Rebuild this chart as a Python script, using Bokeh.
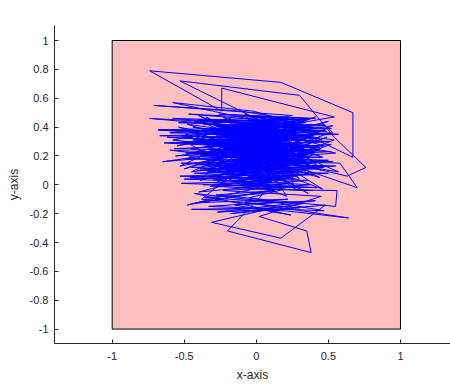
from bokeh.plotting import figure
from bokeh.models import FixedTicker, Range1d, Label
from bokeh.embed import file_html
from bokeh.resources import INLINE

box_x = [-1, 1]
box_y = [-1, 1]

walk = [
    (0.05, 0.22), (-0.32, 0.25), (0.28, 0.21), (-0.15, 0.30), (0.41, 0.27), (-0.62, 0.33), (0.12, 0.29), (-0.21, 0.35),
    (0.33, 0.31), (-0.68, 0.38), (0.07, 0.36), (-0.29, 0.41), (0.46, 0.37), (-0.11, 0.43), (0.24, 0.40), (-0.58, 0.46),
    (0.15, 0.44), (-0.47, 0.49), (0.35, 0.45), (-0.05, 0.42), (0.52, 0.39), (-0.25, 0.37), (0.19, 0.34), (-0.60, 0.29),
    (0.02, 0.30), (-0.35, 0.28), (0.44, 0.26), (-0.18, 0.24), (0.31, 0.20), (-0.49, 0.18), (0.09, 0.16), (-0.27, 0.13),
    (0.38, 0.15), (-0.08, 0.11), (0.22, 0.08), (-0.41, 0.10), (0.47, 0.12), (-0.14, 0.07), (0.27, 0.04), (-0.33, 0.06),
    (0.11, 0.02), (-0.22, -0.01), (0.36, 0.03), (-0.46, 0.05), (0.04, 0.09), (-0.30, 0.14), (0.50, 0.17), (-0.12, 0.19),
    (0.16, 0.23), (-0.65, 0.16), (0.21, 0.28), (-0.09, 0.31), (0.40, 0.33), (-0.36, 0.35), (0.06, 0.38), (-0.19, 0.40),
    (0.29, 0.42), (-0.43, 0.44), (0.13, 0.47), (-0.26, 0.49), (0.37, 0.46), (-0.02, 0.43), (0.48, 0.41), (-0.31, 0.39),
    (0.17, 0.36), (-0.67, 0.34), (0.25, 0.32), (-0.06, 0.29), (0.43, 0.27), (-0.23, 0.25), (0.10, 0.22), (-0.39, 0.20),
    (0.32, 0.18), (-0.16, 0.15), (0.55, 0.13), (-0.28, 0.11), (0.03, 0.08), (-0.53, 0.06), (0.20, 0.04), (-0.10, 0.01),
    (0.42, -0.02), (-0.37, 0.00), (0.14, 0.03), (-0.20, 0.06), (0.30, 0.09), (-0.45, 0.12), (0.08, 0.14), (-0.34, 0.17),
    (0.45, 0.19), (-0.03, 0.21), (0.26, 0.24), (-0.56, 0.20), (0.18, 0.29), (-0.13, 0.32), (0.39, 0.34), (-0.60, 0.36),
    (0.01, 0.39), (-0.24, 0.41), (0.34, 0.43), (-0.40, 0.45), (0.12, 0.42), (-0.17, 0.39), (0.49, 0.37), (-0.07, 0.34),
    (0.23, 0.31), (-0.51, 0.29), (0.05, 0.26), (-0.30, 0.24), (0.36, 0.21), (-0.11, 0.18), (0.53, 0.16), (-0.42, 0.14),
    (0.15, 0.11), (-0.25, 0.09), (0.28, 0.06), (-0.50, 0.04), (-0.01, 0.02), (-0.32, -0.01), (0.39, -0.04), (-0.15, -0.02),
    (0.24, 0.01), (-0.40, -0.05), (0.07, 0.07), (-0.21, 0.10), (0.46, 0.13), (-0.35, 0.15), (0.19, 0.18), (-0.04, 0.21),
    (0.31, 0.23), (-0.57, 0.25), (0.10, 0.28), (-0.27, 0.30), (0.44, 0.32), (-0.14, 0.35), (0.27, 0.37), (-0.74, 0.46),
    (0.02, 0.42), (-0.33, 0.44), (0.41, 0.46), (-0.09, 0.48), (0.20, 0.45), (-0.54, 0.43), (0.33, 0.40), (-0.19, 0.38),
    (0.08, 0.35), (-0.38, 0.33), (0.51, 0.30), (-0.02, 0.27), (0.17, 0.25), (-0.49, 0.22), (0.29, 0.20), (-0.12, 0.17),
    (0.58, 0.15), (0.70, -0.02), (0.35, 0.10), (-0.26, 0.12), (0.04, 0.10), (-0.43, 0.08), (0.25, 0.05), (-0.17, 0.03),
    (0.37, 0.00), (-0.05, -0.03), (0.56, -0.04), (0.55, -0.15), (-0.28, -0.07), (0.13, -0.04), (-0.42, -0.125), (0.22, -0.10),
    (-0.08, -0.12), (0.64, -0.23), (0.20, -0.18), (-0.45, -0.17), (0.12, -0.16), (-0.31, -0.26), (0.17, -0.37), (0.48, -0.14),
    (-0.18, -0.20), (0.33, -0.13), (-0.36, -0.09), (0.05, -0.06), (-0.20, -0.32), (0.38, -0.47), (0.35, -0.32), (0.02, -0.22),
    (0.45, -0.08), (-0.23, -0.04), (0.26, -0.01), (-0.48, -0.14), (0.09, 0.00), (-0.30, 0.04), (0.40, 0.07), (-0.13, 0.09),
    (0.16, 0.12), (-0.52, 0.15), (0.34, 0.17), (-0.06, 0.20), (0.52, 0.23), (-0.22, 0.26), (0.14, 0.28), (-0.44, 0.31),
    (0.30, 0.33), (-0.10, 0.36), (0.54, 0.47), (-0.24, 0.67), (-0.24, 0.51), (-0.74, 0.79), (0.17, 0.71), (0.67, 0.50),
    (0.67, 0.19), (0.36, 0.34), (-0.16, 0.41), (0.25, 0.48), (-0.71, 0.55), (-0.10, 0.51), (0.32, 0.44), (-0.34, 0.38),
    (0.47, 0.42), (0.53, 0.36), (-0.03, 0.33), (0.22, 0.35), (-0.53, 0.72), (0.30, 0.62), (0.54, 0.33), (0.76, 0.12),
    (0.63, 0.06), (0.08, 0.19), (-0.29, 0.22), (0.43, 0.24), (-0.64, 0.29), (0.06, 0.32), (-0.20, 0.34), (0.35, 0.37),
    (-0.58, 0.57), (-0.02, 0.51), (0.40, 0.39), (-0.37, 0.42), (0.11, 0.40), (-0.68, 0.38), (0.27, 0.36), (-0.07, 0.33),
    (0.48, 0.30), (-0.25, 0.27), (0.18, 0.25), (-0.47, 0.22), (0.37, 0.19), (-0.15, 0.16), (0.24, 0.14), (-0.39, 0.11),
    (0.50, 0.08), (-0.04, 0.06), (0.18, 0.03), (-0.52, 0.01), (0.29, -0.02), (-0.11, 0.00), (0.10, 0.05), (-0.33, 0.09),
    (0.42, 0.11), (-0.18, 0.14), (0.00, 0.17), (-0.60, 0.24), (0.26, 0.20), (-0.08, 0.23), (0.38, 0.26), (-0.34, 0.29),
    (0.14, 0.31), (-0.22, 0.33), (0.57, 0.35), (-0.13, 0.38), (0.21, 0.40), (-0.45, 0.37), (0.03, 0.35),
    (0.31, 0.12), (-0.22, 0.41), (0.44, 0.05), (-0.38, 0.30), (0.18, 0.47), (-0.05, 0.08), (0.52, 0.28), (-0.47, 0.19),
    (0.09, 0.44), (0.27, -0.03), (-0.30, 0.36), (0.40, 0.21), (-0.13, 0.02), (0.14, 0.39), (-0.55, 0.27), (0.35, 0.46),
    (-0.02, 0.15), (0.49, 0.33), (-0.26, 0.06), (0.06, 0.30), (-0.41, 0.45), (0.23, 0.17), (-0.10, 0.38), (0.57, 0.09),
    (-0.33, 0.23), (0.12, -0.05), (-0.18, 0.31), (0.38, 0.42), (-0.50, 0.11), (0.00, 0.26), (0.30, 0.04), (-0.23, 0.47),
    (0.46, 0.19), (-0.07, 0.36), (0.21, -0.08), (-0.36, 0.14), (0.10, 0.33), (-0.44, 0.40), (0.33, 0.25), (-0.15, 0.10),
    (0.53, 0.41), (-0.28, 0.29), (0.16, 0.07), (-0.03, 0.45), (0.42, 0.14), (-0.52, 0.34), (0.25, 0.38), (-0.09, 0.20),
    (0.36, -0.06), (-0.20, 0.24), (0.08, 0.48), (-0.39, 0.03), (0.47, 0.27), (-0.12, 0.43), (0.19, 0.12), (-0.45, 0.25),
    (0.29, 0.35), (0.01, 0.05), (-0.31, 0.39), (0.55, 0.22), (-0.24, 0.16), (0.13, 0.45), (-0.06, -0.04), (0.39, 0.30),
    (-0.48, 0.42), (0.22, 0.20), (-0.17, 0.34), (0.45, 0.10), (-0.35, 0.47), (0.07, 0.13), (-0.27, 0.02), (0.32, 0.40),
    (-0.11, 0.27), (0.50, 0.44), (-0.42, 0.21), (0.17, 0.31), (-0.01, 0.11), (0.26, 0.46), (-0.58, 0.31), (0.11, 0.24),
    (-0.21, 0.07), (0.43, 0.36), (-0.08, 0.49), (0.20, 0.09), (-0.37, 0.32), (0.34, 0.16), (-0.14, 0.44), (0.04, 0.01),
    (-0.46, 0.28), (0.48, 0.38), (-0.29, 0.18), (0.15, 0.35), (-0.04, 0.23), (0.37, 0.07), (-0.19, 0.46), (0.28, 0.28),
    (-0.53, 0.13), (0.09, 0.41), (-0.32, 0.20), (0.41, 0.47), (-0.16, 0.30), (0.24, 0.11), (-0.43, 0.37), (0.05, 0.18),
    (0.31, 0.43), (-0.25, 0.01), (0.54, 0.31), (-0.10, 0.40), (0.18, 0.22), (-0.40, 0.48), (0.02, 0.29), (-0.34, 0.09),
    (0.44, 0.24), (-0.06, 0.37), (0.27, 0.15), (-0.49, 0.35), (0.14, 0.02), (-0.22, 0.38), (0.35, 0.32), (-0.13, 0.19),
    (0.46, -0.03), (-0.28, 0.43), (0.12, 0.26), (-0.02, 0.47), (0.30, 0.18), (-0.45, 0.09), (0.21, 0.39), (-0.09, 0.14),
    (0.51, 0.36), (-0.36, 0.26), (0.06, 0.42), (-0.20, 0.12), (0.39, 0.22), (-0.54, 0.40), (0.16, 0.17), (-0.07, 0.32),
    (0.29, 0.05), (-0.31, 0.45), (0.03, 0.23), (-0.38, -0.10), (0.30, -0.16), (-0.27, -0.19), (0.41, -0.11), (-0.15, -0.14),
    (0.24, -0.21), (-0.43, -0.06), (0.12, -0.12), (-0.33, -0.15), (0.47, -0.18), (-0.05, -0.09), (0.20, -0.03),
]
walk_x = [pt[0] for pt in walk]
walk_y = [pt[1] for pt in walk]

x_ticks = [-1, -0.5, 0, 0.5, 1]
x_tick_labels = ["-1", "-0.5", "0", "0.5", "1"]
y_ticks = [-1, -0.8, -0.6, -0.4, -0.2, 0, 0.2, 0.4, 0.6, 0.8, 1]
y_tick_labels = ["-1", "-0.8", "-0.6", "-0.4", "-0.2", "0", "0.2", "0.4", "0.6", "0.8", "1"]

title_text = "Output"
x_label = "x-axis"
y_label = "y-axis"

FONT = "Liberation Sans"
AX = "#262626"

p = figure(width=450, height=385, output_backend="svg", toolbar_location=None,
           x_range=Range1d(-1.4, 1.347), y_range=Range1d(-1.1, 1.104),
           min_border_left=54, min_border_right=0, min_border_top=25, min_border_bottom=42)
p.outline_line_color = None
p.xgrid.visible = False
p.ygrid.visible = False
p.background_fill_color = "white"
p.border_fill_color = "white"

p.quad(left=box_x[0], right=box_x[1], bottom=box_y[0], top=box_y[1],
       fill_color="#FFBFBF", line_color="black", line_width=1)
p.line(walk_x, walk_y, line_color="#0000FF", line_width=1)

p.xaxis.ticker = FixedTicker(ticks=x_ticks)
p.xaxis.major_label_overrides = {t: l for t, l in zip(x_ticks, x_tick_labels)}
p.yaxis.ticker = FixedTicker(ticks=y_ticks)
p.yaxis.major_label_overrides = {t: l for t, l in zip(y_ticks, y_tick_labels)}
p.xaxis.axis_label = x_label
p.yaxis.axis_label = y_label

for ax in (p.xaxis, p.yaxis):
    ax.axis_line_color = AX
    ax.major_tick_line_color = AX
    ax.major_tick_in = 4
    ax.major_tick_out = 0
    ax.minor_tick_line_color = None
    ax.major_label_text_font = FONT
    ax.major_label_text_font_size = "11px"
    ax.major_label_text_color = AX
    ax.axis_label_text_font = FONT
    ax.axis_label_text_font_size = "12px"
    ax.axis_label_text_font_style = "normal"
    ax.axis_label_text_color = AX
p.xaxis.major_label_standoff = 8
p.yaxis.major_label_standoff = 6
p.xaxis.axis_label_standoff = 5
p.yaxis.axis_label_standoff = 6

p.add_layout(Label(x=0, y=1.18, text=title_text, text_align="center", text_baseline="middle",
                   text_font=FONT, text_font_size="12px", text_font_style="bold", text_color="black"))

open("out.html", "w").write(file_html(p, INLINE))
